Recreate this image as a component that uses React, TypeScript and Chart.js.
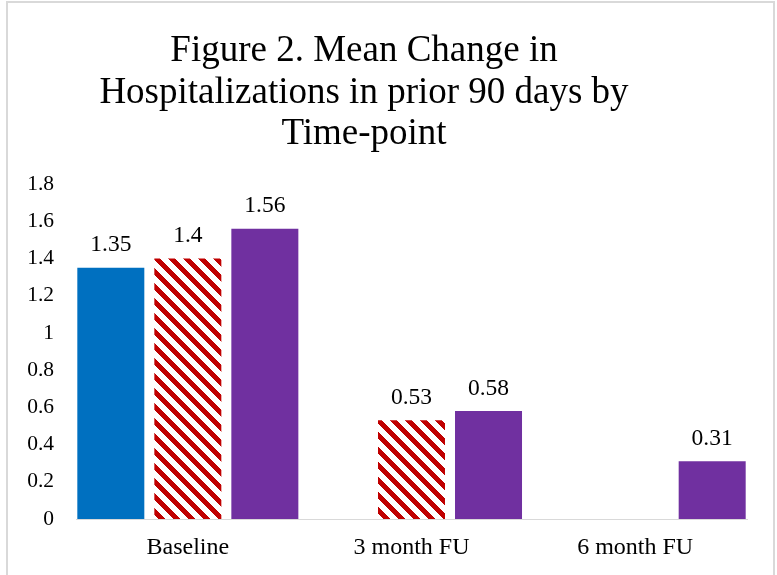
import { useEffect, useRef } from "react";
import { Chart, registerables } from "chart.js";

Chart.register(...registerables);

const CATEGORIES = ["Baseline", "3 month FU", "6 month FU"];
const SERIES_BLUE: (number | null)[] = [1.35, null, null];
const SERIES_STRIPED: (number | null)[] = [1.4, 0.53, null];
const SERIES_PURPLE: (number | null)[] = [1.56, 0.58, 0.31];
const TITLE_LINES = [
  "Figure 2. Mean Change in",
  "Hospitalizations in prior 90 days by",
  "Time-point",
];
const Y_MIN = 0;
const Y_MAX = 1.8;
const Y_STEP = 0.2;

const FONT = "'Liberation Serif', 'Times New Roman', serif";

function makeStripePattern(): CanvasPattern | string {
  const size = 15;
  const c = document.createElement("canvas");
  c.width = size;
  c.height = size;
  const cx = c.getContext("2d");
  if (!cx) return "#C00000";
  const img = cx.createImageData(size, size);
  for (let y = 0; y < size; y++) {
    for (let x = 0; x < size; x++) {
      const d = (((x - y) % size) + size) % size;
      const i = (y * size + x) * 4;
      if (d < 7) {
        img.data[i] = 192;
        img.data[i + 1] = 0;
        img.data[i + 2] = 0;
      } else {
        img.data[i] = 255;
        img.data[i + 1] = 255;
        img.data[i + 2] = 255;
      }
      img.data[i + 3] = 255;
    }
  }
  cx.putImageData(img, 0, 0);
  const p = cx.createPattern(c, "repeat");
  return p || "#C00000";
}

const titlePlugin = {
  id: "customTitle",
  afterDraw(chart: any) {
    const ctx = chart.ctx;
    ctx.save();
    ctx.fillStyle = "#000000";
    ctx.font = `37px ${FONT}`;
    ctx.textAlign = "center";
    ctx.textBaseline = "alphabetic";
    const baselines = [61, 103, 144];
    TITLE_LINES.forEach((line, i) => {
      ctx.fillText(line, 364, baselines[i]);
    });
    ctx.restore();
  },
};

const dataLabelPlugin = {
  id: "dataLabels",
  afterDatasetsDraw(chart: any) {
    const ctx = chart.ctx;
    ctx.save();
    ctx.fillStyle = "#000000";
    ctx.font = `23.5px ${FONT}`;
    ctx.textAlign = "center";
    ctx.textBaseline = "alphabetic";
    chart.data.datasets.forEach((ds: any, di: number) => {
      const meta = chart.getDatasetMeta(di);
      meta.data.forEach((el: any, i: number) => {
        const v = ds.data[i];
        if (v === null || v === undefined) return;
        ctx.fillText(String(v), el.x, el.y - 16.5);
      });
    });
    ctx.restore();
  },
};

export default function App() {
  const canvasRef = useRef<HTMLCanvasElement | null>(null);

  useEffect(() => {
    if (!canvasRef.current) return;
    const stripe = makeStripePattern();
    const chart = new Chart(canvasRef.current, {
      type: "bar",
      data: {
        labels: CATEGORIES,
        datasets: [
          {
            label: "Series 1",
            data: SERIES_BLUE,
            backgroundColor: "#0070C0",
            borderWidth: 0,
          },
          {
            label: "Series 2",
            data: SERIES_STRIPED,
            backgroundColor: stripe as any,
            borderWidth: 0,
          },
          {
            label: "Series 3",
            data: SERIES_PURPLE,
            backgroundColor: "#7030A0",
            borderWidth: 0,
          },
        ],
      },
      options: {
        responsive: false,
        animation: false,
        events: [],
        categoryPercentage: 1.033,
        barPercentage: 0.87,
        layout: {
          padding: { left: 0, right: 30, top: 184, bottom: 16 },
        },
        plugins: {
          legend: { display: false },
          title: { display: false },
          tooltip: { enabled: false },
        },
        scales: {
          x: {
            grid: { display: false, drawTicks: false },
            border: { display: true, color: "#D9D9D9", width: 1 },
            ticks: {
              color: "#000000",
              font: { family: FONT, size: 24 },
              padding: 14.5,
              maxRotation: 0,
            },
            afterFit(scale: any) {
              scale.height = 40;
            },
          },
          y: {
            min: Y_MIN,
            max: Y_MAX,
            grid: { display: false, drawTicks: false },
            border: { display: false },
            ticks: {
              stepSize: Y_STEP,
              color: "#000000",
              font: { family: FONT, size: 21.5 },
              padding: 22,
              callback: (v: any) => String(Number(Number(v).toFixed(1))),
            },
            afterFit(scale: any) {
              scale.width = 76;
            },
          },
        },
      },
      plugins: [titlePlugin, dataLabelPlugin],
    });
    return () => chart.destroy();
  }, []);

  return (
    <div
      style={{
        position: "fixed",
        left: 0,
        top: 0,
        width: 777,
        height: 575,
        overflow: "hidden",
        background: "#ffffff",
      }}
    >
      <div
        style={{
          position: "absolute",
          left: 6,
          top: 1,
          width: 769,
          height: 620,
          border: "2px solid #D9D9D9",
          boxSizing: "border-box",
        }}
      />
      <canvas
        ref={canvasRef}
        width={777}
        height={575}
        style={{ position: "absolute", left: 0, top: 0, width: 777, height: 575 }}
      />
    </div>
  );
}
